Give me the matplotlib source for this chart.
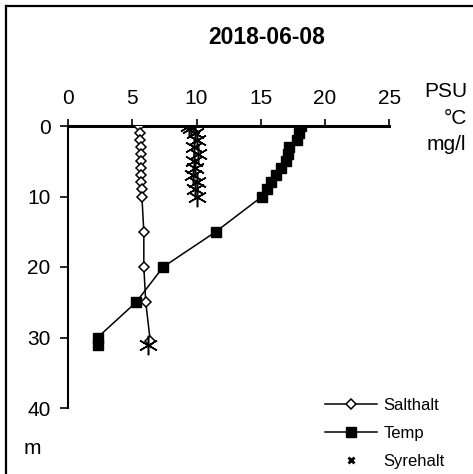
import matplotlib
matplotlib.use("Agg")
import matplotlib.pyplot as plt
from matplotlib.lines import Line2D

plt.rcParams['font.family'] = ['Liberation Sans', 'DejaVu Sans']

# ---- data ----
title = "2018-06-08"
x_ticks = [0, 5, 10, 15, 20, 25]
y_ticks = [0, 10, 20, 30, 40]

salt_depth = [0, 1, 2, 3, 4, 5, 6, 7, 8, 9, 10, 15, 20, 25, 30.5]
salt_vals = [5.5, 5.6, 5.6, 5.65, 5.65, 5.7, 5.7, 5.7, 5.7, 5.75, 5.75, 5.9, 5.9, 6.05, 6.4]

temp_depth = [0, 1, 2, 3, 4, 5, 6, 7, 8, 9, 10, 15, 20, 25, 30, 31]
temp_vals = [18.1, 18.0, 17.8, 17.2, 17.1, 17.0, 16.6, 16.2, 15.8, 15.5, 15.1, 11.5, 7.4, 5.3, 2.3, 2.3]

oxy_depth = [0, 0.3, 1, 2, 3, 4, 5, 6, 7, 8, 9, 10, 31]
oxy_vals = [9.4, 9.6, 9.9, 10.0, 9.8, 10.1, 9.8, 9.9, 9.7, 10.0, 9.9, 10.0, 6.2]

series_labels = ["Salthalt", "Temp", "Syrehalt"]
unit_labels = ["PSU", "°C", "mg/l"]
depth_unit = "m"

W, H = 473, 474
fig = plt.figure(figsize=(W / 100, H / 100), dpi=100)
ax = fig.add_axes([68 / W, 1 - 408 / H, (389.3 - 68) / W, (408 - 126) / H])

ax.plot(salt_vals, salt_depth, color='black', lw=1.1, marker='D', ms=4.8,
        mfc='white', mec='black', mew=1.1, zorder=3)
ax.plot(temp_vals, temp_depth, color='black', lw=1.1, marker='s', ms=7.5,
        mfc='black', mec='black', zorder=3)
ax.plot(oxy_vals, oxy_depth, ls='none', marker=(6, 2, 0), ms=14,
        color='black', mew=1.1, zorder=4)

ax.set_xlim(0, 25)
ax.set_ylim(40, 0)
ax.set_xticks(x_ticks)
ax.set_yticks(y_ticks)
ax.xaxis.tick_top()
ax.tick_params(axis='x', direction='out', length=5, width=1.2, labelsize=15, pad=8)
ax.tick_params(axis='y', direction='out', length=5.5, width=1.2, labelsize=15, pad=7)
for s in ['right', 'bottom']:
    ax.spines[s].set_visible(False)
ax.spines['top'].set_linewidth(2.2)
ax.spines['left'].set_linewidth(1.5)
ax.patch.set_alpha(0)
for sp in ax.spines.values():
    sp.set_zorder(2)

fig.text(267 / W, 1 - 37 / H, title, ha='center', va='center',
         fontsize=16.5, fontweight='bold')
fig.text(467 / W, 1 - 91.5 / H, unit_labels[0], ha='right', va='center', fontsize=15)
fig.text(467 / W, 1 - 119 / H, unit_labels[1], ha='right', va='center', fontsize=15)
fig.text(466 / W, 1 - 145 / H, unit_labels[2], ha='right', va='center', fontsize=15)
fig.text(32 / W, 1 - 448 / H, depth_unit, ha='center', va='center', fontsize=15)

handles = [
    Line2D([], [], color='black', lw=1.1, marker='D', ms=4.8, mfc='white', mew=1.1),
    Line2D([], [], color='black', lw=1.1, marker='s', ms=7.5),
    Line2D([], [], ls='none', color='black', marker='x', ms=4, mew=2),
]
fig.legend(handles, series_labels, loc='upper left',
           bbox_to_anchor=(325 / W, 1 - 398 / H), frameon=False, fontsize=12,
           handlelength=3.1, handletextpad=0.4, labelspacing=0.78,
           borderpad=0, borderaxespad=0)

# border (top and left visible in the crop)
fig.add_artist(Line2D([6 / W, 1], [1 - 6 / H, 1 - 6 / H], transform=fig.transFigure,
                      color='black', lw=1.6))
fig.add_artist(Line2D([6 / W, 6 / W], [0, 1 - 6 / H], transform=fig.transFigure,
                      color='black', lw=1.6))

fig.savefig("out.png", dpi=100)
